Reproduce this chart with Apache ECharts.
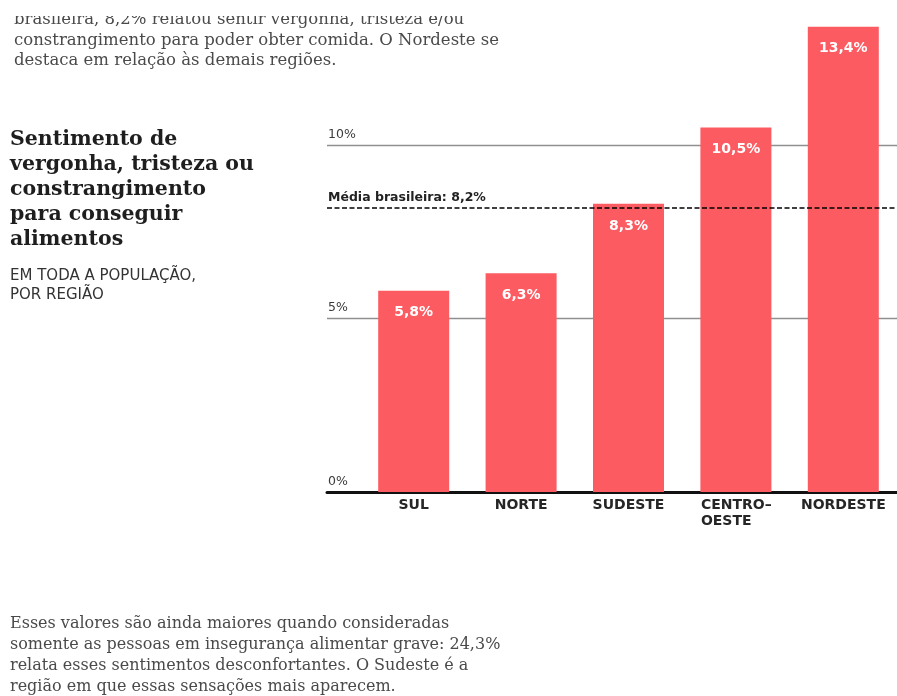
<!DOCTYPE html>
<html lang="pt-BR">
<head>
<meta charset="utf-8">
<title>Sentimento de vergonha, tristeza ou constrangimento para conseguir alimentos</title>
<script src="https://cdn.jsdelivr.net/npm/echarts@6/dist/echarts.min.js"></script>
<style>
  html, body { margin: 0; padding: 0; background: #ffffff; }
  #chart { width: 897px; height: 696px; }
</style>
</head>
<body>
<div id="chart"></div>
<script>
// Regions and the share of people who reported each feeling (%)
const regions = ['SUL', 'NORTE', 'SUDESTE', 'CENTRO–OESTE', 'NORDESTE'];
const shares = [5.8, 6.3, 8.3, 10.5, 13.4];
const brazilAverage = 8.2;
const yTicks = [0, 5, 10];

const introText = [
  'brasileira, 8,2% relatou sentir vergonha, tristeza e/ou',
  'constrangimento para poder obter comida. O Nordeste se',
  'destaca em relação às demais regiões.'
];
const titleText = [
  'Sentimento de',
  'vergonha, tristeza ou',
  'constrangimento',
  'para conseguir',
  'alimentos'
];
const subtitleText = ['EM TODA A POPULAÇÃO,', 'POR REGIÃO'];
const outroText = [
  'Esses valores são ainda maiores quando consideradas',
  'somente as pessoas em insegurança alimentar grave: 24,3%',
  'relata esses sentimentos desconfortantes. O Sudeste é a',
  'região em que essas sensações mais aparecem.'
];

const pct = v => v.toFixed(1).replace('.', ',') + '%';

const SERIF = '"DejaVu Serif", "Liberation Serif", serif';
const SANS = '"DejaVu Sans", "Open Sans", sans-serif';

const chart = echarts.init(document.getElementById('chart'), null, { renderer: 'canvas' });

const yMax = 14;

chart.setOption({
  backgroundColor: '#ffffff',
  animation: false,
  grid: [
    // reference grid: gridlines, tick labels, baseline
    { left: 327, right: 0, top: 6, bottom: 204, containLabel: false },
    // bars
    { left: 360, right: 0, top: 6, bottom: 204, containLabel: false }
  ],
  xAxis: [
    {
      gridIndex: 0,
      type: 'category',
      data: [''],
      axisLine: { show: true, lineStyle: { color: '#111111', width: 3 } },
      axisTick: { show: false },
      axisLabel: { show: false },
      splitLine: { show: false }
    },
    {
      gridIndex: 1,
      type: 'category',
      data: regions,
      axisLine: { show: false },
      axisTick: { show: false },
      axisLabel: {
        margin: 6,
        interval: 0,
        formatter: name => {
          const i = name.indexOf('–');
          if (i > 0) {
            return '{w|' + name.slice(0, i + 1) + '}\n{w|' + name.slice(i + 1) + '}';
          }
          return '{n|' + name + '}';
        },
        rich: {
          n: { fontFamily: SANS, fontWeight: 'bold', fontSize: 14, color: '#262626', lineHeight: 15.5 },
          w: { fontFamily: SANS, fontWeight: 'bold', fontSize: 14, color: '#262626', lineHeight: 15.5, width: 70, align: 'left' }
        }
      }
    }
  ],
  yAxis: [
    {
      gridIndex: 0,
      type: 'value',
      min: 0,
      max: yMax,
      interval: 5,
      axisLine: { show: false },
      axisTick: { show: false },
      axisLabel: {
        inside: true,
        margin: 1,
        align: 'left',
        verticalAlign: 'bottom',
        lineHeight: 21,
        showMaxLabel: false,
        fontFamily: SANS,
        fontSize: 12.5,
        color: '#3a3a3a',
        formatter: v => (yTicks.indexOf(v) >= 0 ? v + '%' : '')
      },
      splitLine: {
        show: true,
        showMaxLine: false,
        lineStyle: { color: '#8f8f8f', width: 1.4 }
      }
    },
    {
      gridIndex: 1,
      type: 'value',
      min: 0,
      max: yMax,
      interval: 5,
      show: false,
      splitLine: { show: false }
    }
  ],
  series: [
    {
      name: 'Região',
      type: 'bar',
      xAxisIndex: 1,
      yAxisIndex: 1,
      data: shares,
      barWidth: 71,
      z: 3,
      itemStyle: { color: '#fc5b62' },
      label: {
        show: true,
        position: 'insideTop',
        distance: 15,
        color: '#ffffff',
        fontFamily: SANS,
        fontWeight: 'bold',
        fontSize: 14,
        formatter: p => pct(p.value)
      }
    },
    {
      name: 'Média brasileira',
      type: 'line',
      xAxisIndex: 0,
      yAxisIndex: 0,
      data: [],
      z: 5,
      markLine: {
        silent: true,
        symbol: ['none', 'none'],
        lineStyle: { color: 'rgba(0,0,0,0.75)', width: 2, type: [5, 2.5] },
        label: {
          show: true,
          position: 'insideStartTop',
          distance: [1, 3],
          fontFamily: SANS,
          fontWeight: 'bold',
          fontSize: 12.5,
          color: '#222222',
          formatter: () => 'Média brasileira: ' + pct(brazilAverage)
        },
        data: [{ yAxis: brazilAverage }]
      }
    }
  ],
  graphic: [
    {
      type: 'text',
      x: 14,
      y: 9.5,
      z: 1,
      style: {
        text: introText.join('\n'),
        fontFamily: SERIF,
        fontSize: 16.5,
        lineHeight: 20.5,
        fill: '#4a4a4a',
        verticalAlign: 'top'
      }
    },
    {
      // the intro paragraph continues from above the top edge
      type: 'rect',
      z: 2,
      shape: { x: 0, y: 0, width: 560, height: 16 },
      style: { fill: '#ffffff' }
    },
    {
      type: 'text',
      x: 10,
      y: 127,
      style: {
        text: titleText.join('\n'),
        fontFamily: SERIF,
        fontWeight: 'bold',
        fontSize: 20.5,
        lineHeight: 25,
        fill: '#1e1e1e',
        verticalAlign: 'top'
      }
    },
    {
      type: 'text',
      x: 10,
      y: 266,
      style: {
        text: subtitleText.join('\n'),
        fontFamily: SANS,
        fontSize: 15,
        lineHeight: 19.5,
        fill: '#333333',
        verticalAlign: 'top'
      }
    },
    {
      type: 'text',
      x: 10,
      y: 613,
      style: {
        text: outroText.join('\n'),
        fontFamily: SERIF,
        fontSize: 16,
        lineHeight: 21,
        fill: '#4a4a4a',
        verticalAlign: 'top'
      }
    }
  ]
});
</script>
</body>
</html>
